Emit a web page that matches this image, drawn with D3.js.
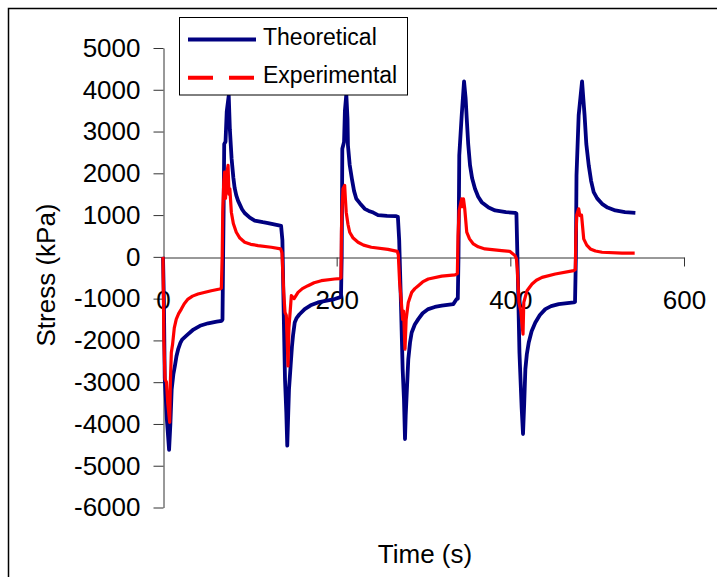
<!DOCTYPE html>
<html>
<head>
<meta charset="utf-8">
<script src="https://cdn.jsdelivr.net/npm/d3@7"></script>
<style>
  body { margin: 0; background: #fff; }
  text { font-family: "Liberation Sans", Arial, sans-serif; fill: #000; }
</style>
</head>
<body>
<div id="chart"></div>
<script>
// [time (s), stress (kPa)]
var theoretical = [
  [0,0],[1,-1000],[2,-2900],[3,-3300],[4.5,-3900],[7,-4620],[8.5,-4000],[10,-3170],[12,-2800],
  [13.8,-2600],[15.5,-2380],[17.6,-2200],[20,-2060],[22,-1980],[27.3,-1880],[35,-1740],[42.6,-1650],[52,-1590],[61.8,-1550],[67.6,-1530],
  [68.5,-1500],[69.2,-50],[69.8,1080],[70.5,2700],[72,2760],[73.4,3480],[75.7,3860],[77,3050],[79,2350],
  [81,1900],[82.5,1650],[84.4,1470],[86.5,1340],[88.5,1250],[91,1140],[94,1050],[100,940],[105.6,870],[115,830],[121,810],[132,760],[136,740],
  [137.5,400],[139,-1320],[140.5,-2930],[142,-3720],[143.1,-4520],[144,-3900],[145.1,-3170],[147,-2600],
  [148.5,-2150],[149.7,-1890],[151.7,-1570],[154,-1460],[157,-1380],[163.2,-1250],[170,-1160],[178.5,-1090],[190,-1040],[197.7,-1010],[203.5,-970],
  [205,-950],[205.8,0],[206.5,2590],[208.5,2750],[209.5,3500],[211.1,3890],[212.5,3300],[213,2670],[215,2200],
  [217.5,1870],[220,1580],[222.6,1390],[226.9,1280],[232.3,1150],[237,1100],[242.2,1060],[247.6,1000],[258,980],[268,975],[270.5,960],
  [272,400],[274,-1090],[276,-2690],[277.5,-3400],[278.7,-4360],[279.5,-3800],[280.7,-3250],[282.5,-2450],
  [284.5,-2050],[286.4,-1810],[290,-1620],[294,-1490],[299,-1350],[305.5,-1250],[313,-1200],[321,-1170],[334.3,-1130],[338.2,-1010],[339.5,-1000],
  [340.3,0],[341.2,2430],[344,3390],[346.7,4200],[348.5,3800],[349.8,3310],[351.5,2700],[353.6,2190],
  [356,1880],[359.3,1630],[363,1440],[367,1310],[375,1180],[382.4,1110],[395,1070],[405.4,1055],[407,1040],
  [408.5,-290],[410.5,-2290],[413,-3600],[414.6,-4240],[416,-3500],[417.3,-2690],[419,-2330],[421.2,-2050],[424.5,-1780],[428.8,-1570],
  [434,-1390],[440.3,-1250],[447,-1180],[455.7,-1130],[473,-1090],[474.5,-1080],
  [475.5,0],[476.2,1950],[478.7,3390],[482.6,4200],[484,3800],[485.5,3390],[487.5,2700],[490.3,2190],
  [493,1820],[496,1550],[500,1400],[505.6,1270],[512,1180],[520.9,1110],[532,1070],[544,1055]
];

var experimental = [
  [0,0],[1,-1970],[2.3,-2930],[4,-3000],[5.5,-3500],[7.7,-3960],[8.5,-3000],[9.6,-2290],[11,-2100],[13,-1700],
  [15.3,-1490],[18,-1360],[21.1,-1250],[24.5,-1120],[28.8,-1010],[34,-940],[40.3,-890],[55.6,-810],[65.3,-770],[67.2,-750],
  [68.2,30],[68.8,1070],[70,1800],[71,2030],[72,1400],[73.5,2000],[74.9,2190],[76,1500],[77,1630],[78.7,1070],
  [81,800],[84.4,590],[88.5,450],[94.1,350],[101,300],[109.4,270],[124.7,230],[135.5,190],
  [137,100],[139,-850],[140.5,-1330],[142,-1400],[143,-2000],[144,-2610],[145,-1700],[146.5,-1300],[147.8,-930],
  [151,-1000],[155.5,-850],[160.5,-760],[167,-690],[174,-620],[182.3,-570],[197.7,-530],[203.5,-520],
  [205,-500],[205.5,600],[206,1070],[207.3,1630],[209.2,1710],[210,1400],[211,1070],[213,780],[215,590],[219,450],[224.6,350],
  [231,280],[239.9,230],[259.1,180],[269.8,130],
  [271,50],[272.5,-610],[274.5,-1090],[276,-1500],[277,-1300],[278.7,-2210],[280,-1500],[282.5,-1090],
  [286.4,-850],[290,-760],[294,-690],[299,-600],[305.5,-530],[321,-460],[336.3,-430],[339,-400],
  [339.8,500],[341,1100],[344,1390],[345,1200],[346,1390],[347.5,1150],[349.8,590],[353,430],[357.4,310],[363,240],[370.8,190],
  [390,150],[399.6,130],[405.4,30],
  [407,-50],[408,-290],[410,-1090],[412,-1300],[414.6,-1850],[415.5,-1090],[419.2,-810],[425,-650],
  [430,-560],[436.5,-490],[451.8,-410],[473,-330],
  [474.8,-300],[475.5,500],[476.5,1000],[478.7,1150],[480,990],[482,1000],[484.5,430],[488,280],[492.1,190],
  [498,140],[505.6,110],[528.6,90],[543.2,90]
];

var xTicks = [0, 200, 400, 600];
var yTicks = [-6000, -5000, -4000, -3000, -2000, -1000, 0, 1000, 2000, 3000, 4000, 5000];
var seriesNames = ['Theoretical', 'Experimental'];

var W = 717, H = 577;
var plot = {left: 163, right: 684, top: 48, bottom: 507.5};

var x = d3.scaleLinear().domain([0, 600]).range([plot.left, plot.right]);
var y = d3.scaleLinear().domain([-6000, 5000]).range([plot.bottom, plot.top]);

var svg = d3.select('#chart').append('svg')
    .attr('width', W)
    .attr('height', H);

svg.append('rect')
    .attr('width', W).attr('height', H)
    .attr('fill', '#fff');

// outer chart border (runs off right/bottom of the picture)
svg.append('rect')
    .attr('x', 8.5).attr('y', 8.5)
    .attr('width', W + 20).attr('height', H + 20)
    .attr('fill', 'none')
    .attr('stroke', '#000')
    .attr('stroke-width', 1.5);

// plain hyphen for negatives, like the original
var fmt = function(d){ return String(d); };

var yAxis = svg.append('g')
    .attr('transform', 'translate(' + (x(0) + 0.5) + ',0)')
    .call(d3.axisLeft(y).tickValues(yTicks).tickSize(10).tickPadding(13).tickSizeOuter(0).tickFormat(fmt));

var xAxis = svg.append('g')
    .attr('transform', 'translate(0,' + (Math.round(y(0)) + 0.5) + ')')
    .call(d3.axisBottom(x).tickValues(xTicks).tickSize(9).tickPadding(24).tickSizeOuter(0).tickFormat(fmt));

[xAxis, yAxis].forEach(function(g){
    g.selectAll('path, line').attr('stroke', '#333');
    g.selectAll('text')
        .style('font-family', '"Liberation Sans", Arial, sans-serif')
        .style('font-size', '26px')
        .attr('fill', '#000');
});

var line = d3.line()
    .x(function(d){ return x(d[0]); })
    .y(function(d){ return y(d[1]); });

svg.append('path')
    .datum(theoretical)
    .attr('d', line)
    .attr('fill', 'none')
    .attr('stroke', '#000080')
    .attr('stroke-width', 3.8)
    .attr('stroke-linejoin', 'round');

svg.append('path')
    .datum(experimental)
    .attr('d', line)
    .attr('fill', 'none')
    .attr('stroke', '#ff0000')
    .attr('stroke-width', 3.2)
    .attr('stroke-linejoin', 'round');

// axis titles
svg.append('text')
    .attr('x', 425).attr('y', 563)
    .attr('text-anchor', 'middle')
    .style('font-size', '26px')
    .text('Time (s)');

svg.append('text')
    .attr('transform', 'translate(55,275) rotate(-90)')
    .attr('text-anchor', 'middle')
    .style('font-size', '26px')
    .text('Stress (kPa)');

// legend
var legend = svg.append('g');
legend.append('rect')
    .attr('x', 179.5).attr('y', 17.5)
    .attr('width', 228).attr('height', 77.5)
    .attr('fill', '#fff')
    .attr('stroke', '#000')
    .attr('stroke-width', 1);

var items = legend.selectAll('g.item')
    .data(seriesNames)
    .enter()
    .append('g')
    .attr('class', 'item')
    .attr('transform', function(d, i){ return 'translate(0,' + (39.5 + i * 38.3) + ')'; });

items.append('line')
    .attr('x1', 188).attr('x2', 256)
    .attr('stroke', function(d, i){ return i ? '#ff0000' : '#000080'; })
    .attr('stroke-width', function(d, i){ return i ? 4 : 3.8; })
    .attr('stroke-dasharray', function(d, i){ return i ? '25,16' : null; });

items.append('text')
    .attr('x', 263).attr('y', 5.5)
    .style('font-size', '23px')
    .text(function(d){ return d; });
</script>
</body>
</html>
